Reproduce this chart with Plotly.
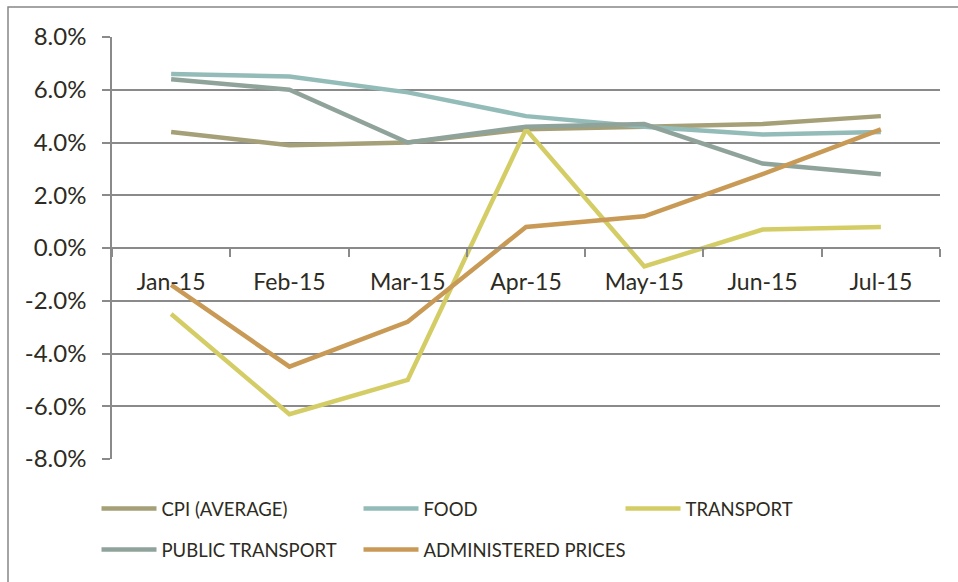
import plotly.graph_objects as go

months = ["Jan-15", "Feb-15", "Mar-15", "Apr-15", "May-15", "Jun-15", "Jul-15"]
cpi = [4.4, 3.9, 4.0, 4.5, 4.6, 4.7, 5.0]
food = [6.6, 6.5, 5.9, 5.0, 4.6, 4.3, 4.4]
transport = [-2.5, -6.3, -5.0, 4.5, -0.7, 0.7, 0.8]
public_transport = [6.4, 6.0, 4.0, 4.6, 4.7, 3.2, 2.8]
administered = [-1.4, -4.5, -2.8, 0.8, 1.2, 2.8, 4.5]
y_ticks = [-8, -6, -4, -2, 0, 2, 4, 6, 8]
y_tick_labels = ["-8.0%", "-6.0%", "-4.0%", "-2.0%", "0.0%", "2.0%", "4.0%", "6.0%", "8.0%"]

series = [
    ("CPI (AVERAGE)", cpi, "#a5a077", "legend"),
    ("FOOD", food, "#93bcb9", "legend"),
    ("TRANSPORT", transport, "#d4cd66", "legend"),
    ("PUBLIC TRANSPORT", public_transport, "#8fa39b", "legend2"),
    ("ADMINISTERED PRICES", administered, "#c89a56", "legend2"),
]

FONT = "Lato"
TXT = "#2d2b22"
GRID = "#8a8a8a"

fig = go.Figure()
for name, vals, color, lg in series:
    fig.add_trace(go.Scatter(
        x=months, y=vals, name=name, mode="lines",
        line=dict(color=color, width=4.5),
        legend=lg,
        legendwidth=260 if name == "ADMINISTERED PRICES" else None,
    ))

W, H = 958, 582
L, R, T, B = 112, 18, 37, 123
pw = W - L - R
ph = H - T - B

def px_x(p):
    return (p - L) / pw

def px_y(p):
    return (H - B - p) / ph

legend_common = dict(
    orientation="h", xanchor="left", yanchor="middle",
    font=dict(family=FONT, size=18.5, color=TXT),
    itemwidth=55, entrywidthmode="pixels", entrywidth=192,
    bgcolor="rgba(0,0,0,0)", itemclick=False,
)

fig.update_layout(
    width=W, height=H,
    margin=dict(l=L, r=R, t=T, b=B),
    paper_bgcolor="white", plot_bgcolor="white",
    font=dict(family=FONT, color=TXT),
    showlegend=True,
    legend=dict(x=px_x(96.5), y=px_y(509), **legend_common),
    legend2=dict(x=px_x(96.5), y=px_y(550), **legend_common),
    xaxis=dict(
        type="category", anchor="free", position=0.5,
        range=[-0.5, len(months) - 0.5],
        showline=True, linecolor=GRID, linewidth=1.5,
        ticks="outside", tickson="boundaries", ticklen=8, tickcolor=GRID, tickwidth=1.5,
        showgrid=False, zeroline=False,
        tickfont=dict(family=FONT, size=23, color=TXT),
        ticklabelstandoff=14,
    ),
    yaxis=dict(
        range=[-8, 8], tickvals=y_ticks, ticktext=y_tick_labels,
        showline=True, linecolor=GRID, linewidth=1.5,
        ticks="outside", ticklen=8, tickcolor=GRID, tickwidth=1.5,
        showgrid=True, gridcolor=GRID, gridwidth=1.5,
        zeroline=False,
        tickfont=dict(family=FONT, size=24, color=TXT),
        ticklabelstandoff=11,
    ),
    shapes=[dict(
        type="rect", xref="paper", yref="paper",
        x0=px_x(8), x1=px_x(970), y0=px_y(600), y1=px_y(7),
        line=dict(color="#878787", width=1.5), fillcolor="rgba(0,0,0,0)",
        layer="below",
    )],
)

fig.write_html("out.html")
